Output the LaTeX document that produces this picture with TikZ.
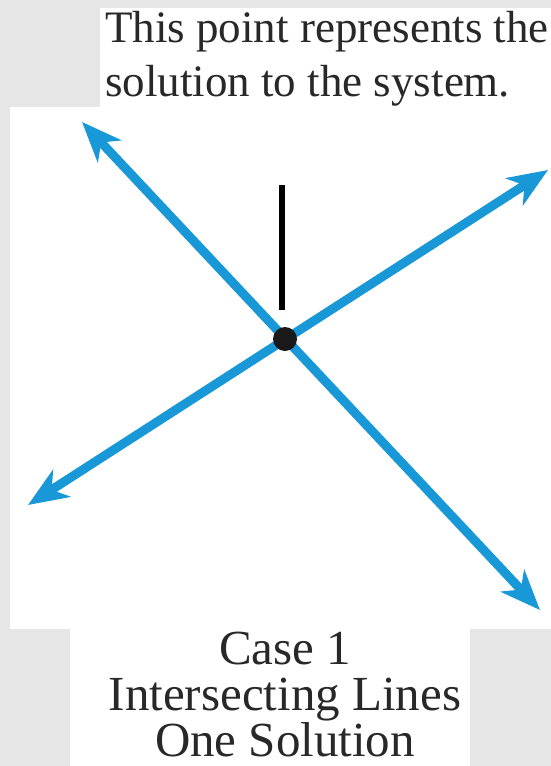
\documentclass[tikz,border=0pt]{standalone}
\usepackage{fontspec}
\setmainfont{Liberation Serif}
\usetikzlibrary{arrows.meta,positioning,calc}
\definecolor{bgcolor}{RGB}{230,230,230}
\definecolor{panelcolor}{RGB}{255,255,255}
\definecolor{linecolor}{RGB}{24,152,214}
\definecolor{textcolor}{RGB}{40,40,40}
\tikzset{
    panel/.style={fill=panelcolor, draw=none},
    blueline/.style={
        {Stealth[length=40pt,width=32pt,inset=12pt]}-{Stealth[length=40pt,width=32pt,inset=12pt]},
        line width=9pt,
        color=linecolor
    },
    pointer/.style={line width=6pt, color=black},
    soldot/.style={circle, fill=black!90, minimum size=24pt, inner sep=0pt},
    caption/.style={font=\fontsize{45}{54}\selectfont, text=textcolor, inner sep=0pt},
    casetext/.style={font=\fontsize{49}{46}\selectfont, text=textcolor, inner sep=0pt}
}
\begin{document}
\begin{tikzpicture}[x=1pt, y=-1pt]
    % Background
    \fill[bgcolor] (0,0) rectangle (551,766);
    \useasboundingbox (0,0) rectangle (551,766);
    
    % Panels
    \fill[panel] (100,8) rectangle (551,110);
    \fill[panel] (10,107) rectangle (551,629);
    \fill[panel] (70,628) rectangle (470,766);
    
    % Label
    \node[caption, anchor=north west, align=left] (label) at (105,11)
        {This point represents the\\solution to the system.};
    
    % Lines
    \coordinate (nw) at (82,122);
    \coordinate (se) at (540,610);
    \coordinate (sw) at (28,505);
    \coordinate (ne) at (548,170);
    \draw[blueline] (nw) -- (se);
    \draw[blueline] (sw) -- (ne);
    
    % Solution
    \node[soldot] (sol) at (285,339) {};
    \coordinate (ptrtop) at (282,185);
    \coordinate (ptrend) at (282,310);
    \draw[pointer] (ptrtop) -- (ptrend);
    
    % Caption
    \node[casetext, anchor=north, align=center] (case) at (285,632)
        {Case 1\\Intersecting Lines\\One Solution};
\end{tikzpicture}
\end{document}
